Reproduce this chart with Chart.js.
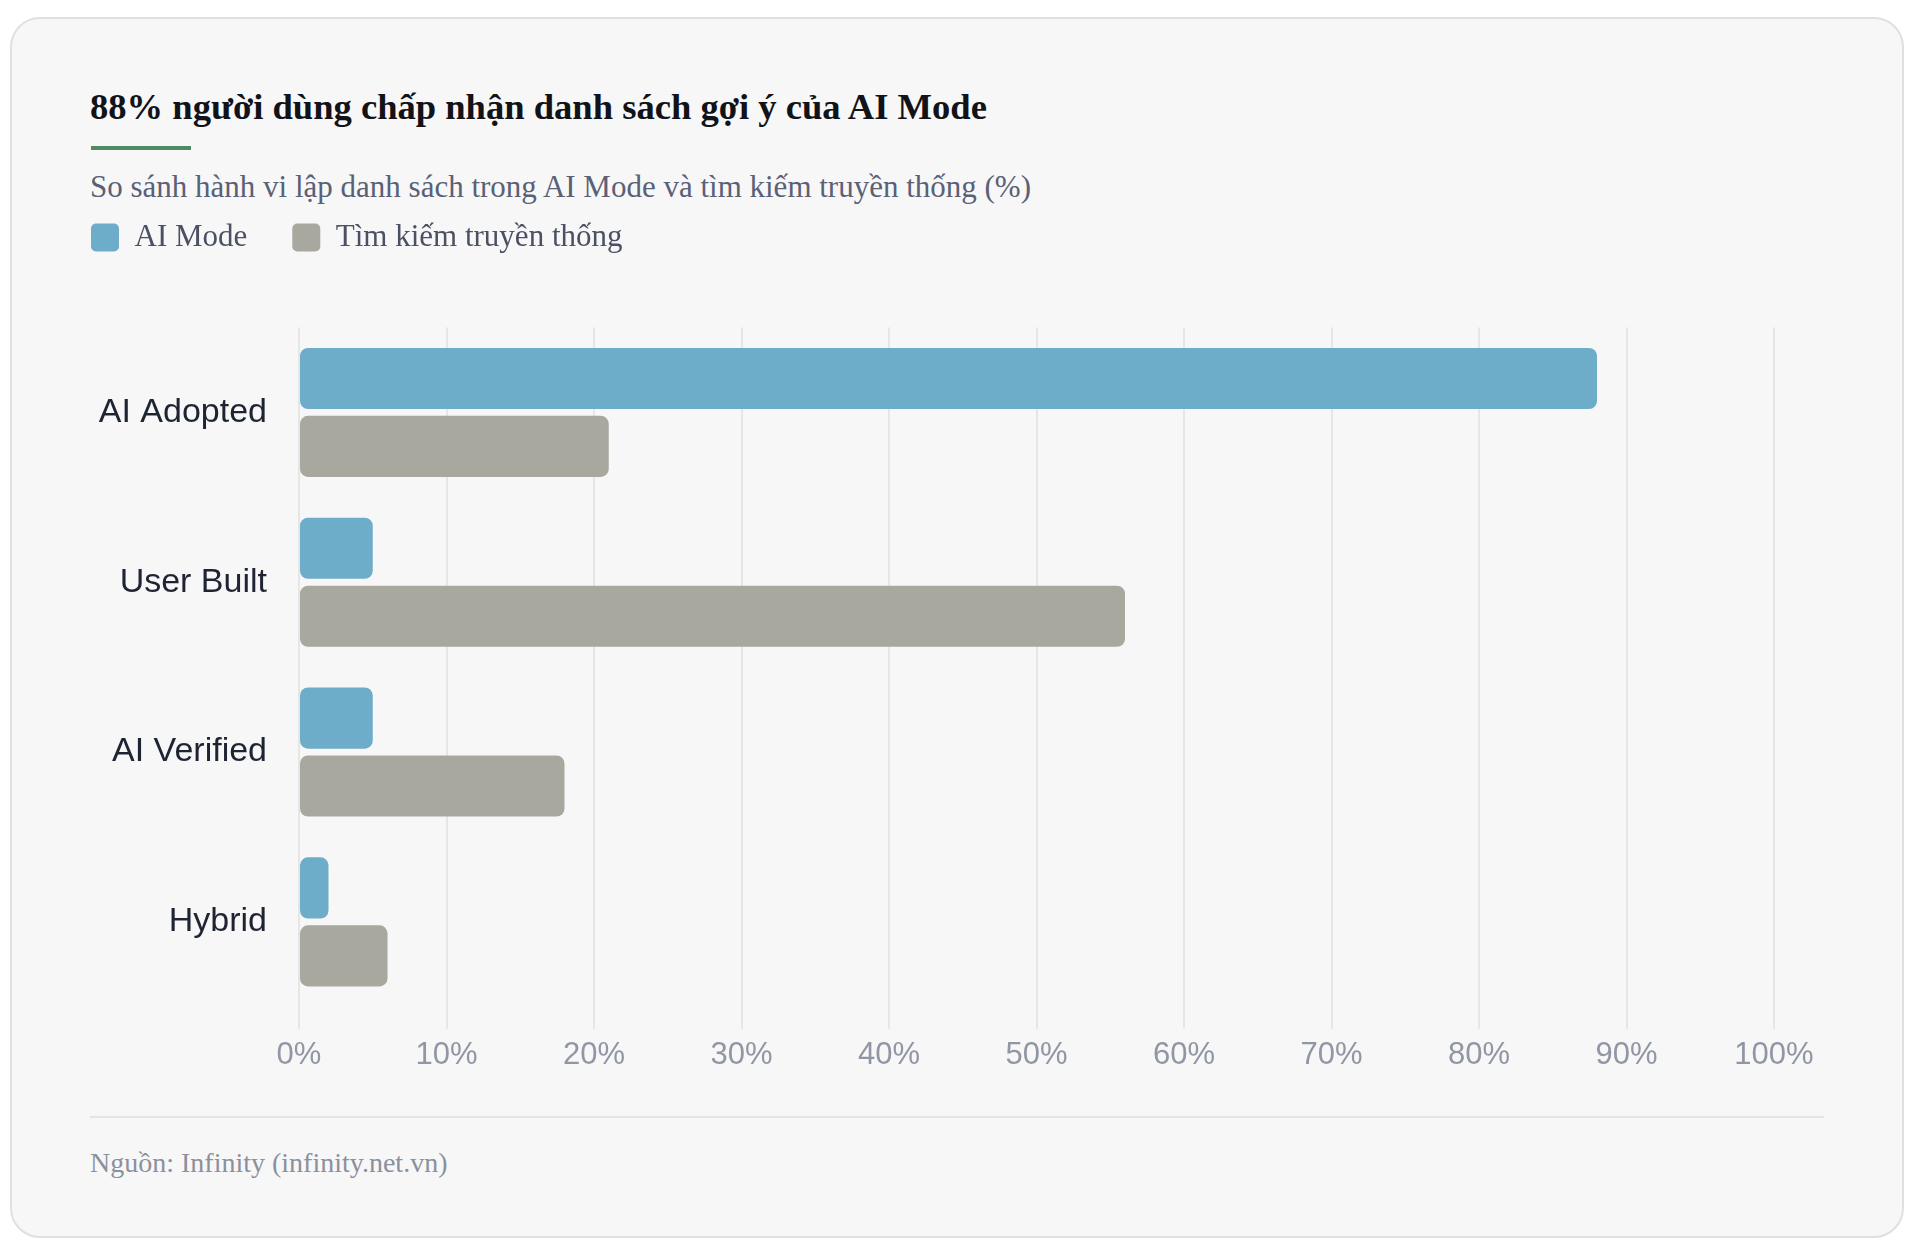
<!DOCTYPE html>
<html>
<head>
<meta charset="utf-8">
<script src="https://cdn.jsdelivr.net/npm/chart.js@4.4.1/dist/chart.umd.min.js"></script>
<style>
html,body{margin:0;padding:0;background:#ffffff;width:1920px;height:1258px;overflow:hidden;}
.card{position:absolute;left:10px;top:17px;width:1890px;height:1217px;border:2px solid #dfe0e5;border-radius:30px;background:#f7f7f7;}
.title{position:absolute;left:90px;top:88.5px;margin:0;font-family:"Liberation Serif","Times New Roman",serif;font-weight:bold;font-size:36.6px;line-height:36.6px;color:#111318;white-space:nowrap;}
.bar{position:absolute;left:91px;top:146px;width:100px;height:4px;background:#4f8a63;}
.subtitle{position:absolute;left:90px;top:171px;margin:0;font-family:"Liberation Serif","Times New Roman",serif;font-size:31px;line-height:31px;color:#5a6075;white-space:nowrap;}
.sep{position:absolute;left:90px;top:1116px;width:1734px;height:2px;background:#e3e4e8;}
.source{position:absolute;left:90px;top:1149.2px;margin:0;font-family:"Liberation Serif","Times New Roman",serif;font-size:28px;line-height:28px;color:#8b909d;white-space:nowrap;}
#wrap{position:absolute;left:45.5px;top:176.5px;width:1778.5px;height:905px;}
</style>
</head>
<body>
<div class="card"></div>
<h1 class="title">88% người dùng chấp nhận danh sách gợi ý của AI Mode</h1>
<div class="bar"></div>
<p class="subtitle">So sánh hành vi lập danh sách trong AI Mode và tìm kiếm truyền thống (%)</p>
<div id="wrap"><canvas id="c" width="1779" height="905" style="width:1779px;height:905px;"></canvas></div>
<div class="sep"></div>
<p class="source">Nguồn: Infinity (infinity.net.vn)</p>
<script>
const categories = ['AI Adopted', 'User Built', 'AI Verified', 'Hybrid'];
const seriesNames = ['AI Mode', 'Tìm kiếm truyền thống'];
const aiModeValues = [88, 5, 5, 2];
const traditionalValues = [21, 56, 18, 6];
const tickSuffix = '%';

const serif = '"Liberation Serif", "Times New Roman", serif';
const sans = '"Liberation Sans", Arial, Helvetica, sans-serif';

const legendSpacer = {
  id: 'legendSpacer',
  beforeInit(chart) {
    const legend = chart.legend;
    const origFit = legend.fit;
    legend.fit = function () {
      origFit.call(this);
      this.height += 64.5;
    };
  }
};

new Chart(document.getElementById('c'), {
  type: 'bar',
  data: {
    labels: categories,
    datasets: [
      {
        label: seriesNames[0],
        data: aiModeValues,
        backgroundColor: '#6eadca',
        borderWidth: 0,
        borderRadius: 8,
        borderSkipped: false,
        categoryPercentage: 0.8,
        barPercentage: 0.9
      },
      {
        label: seriesNames[1],
        data: traditionalValues,
        backgroundColor: '#a8a89f',
        borderWidth: 0,
        borderRadius: 8,
        borderSkipped: false,
        categoryPercentage: 0.8,
        barPercentage: 0.9
      }
    ]
  },
  options: {
    indexAxis: 'y',
    responsive: false,
    animation: false,
    layout: { padding: { left: 0, right: 51, top: 0, bottom: 0 } },
    plugins: {
      legend: {
        display: true,
        position: 'top',
        align: 'start',
        labels: {
          boxWidth: 28,
          boxHeight: 28,
          padding: 45,
          useBorderRadius: true,
          borderRadius: 5,
          color: '#4b5064',
          font: { family: serif, size: 31 }
        }
      },
      tooltip: { enabled: false }
    },
    scales: {
      x: {
        min: 0,
        max: 100,
        ticks: {
          stepSize: 10,
          autoSkip: false,
          maxRotation: 0,
          padding: 8,
          color: '#9096a4',
          font: { family: sans, size: 31 },
          callback: (v) => v + tickSuffix
        },
        grid: { color: '#e6e6e6', lineWidth: 2, drawTicks: true, tickLength: 22 },
        border: { display: false }
      },
      y: {
        ticks: {
          padding: 32,
          color: '#1f2433',
          font: { family: sans, size: 34 }
        },
        grid: { display: false, drawTicks: false },
        border: { display: false },
        afterFit(scale) { scale.width = 253; }
      }
    }
  },
  plugins: [legendSpacer]
});
</script>
</body>
</html>
